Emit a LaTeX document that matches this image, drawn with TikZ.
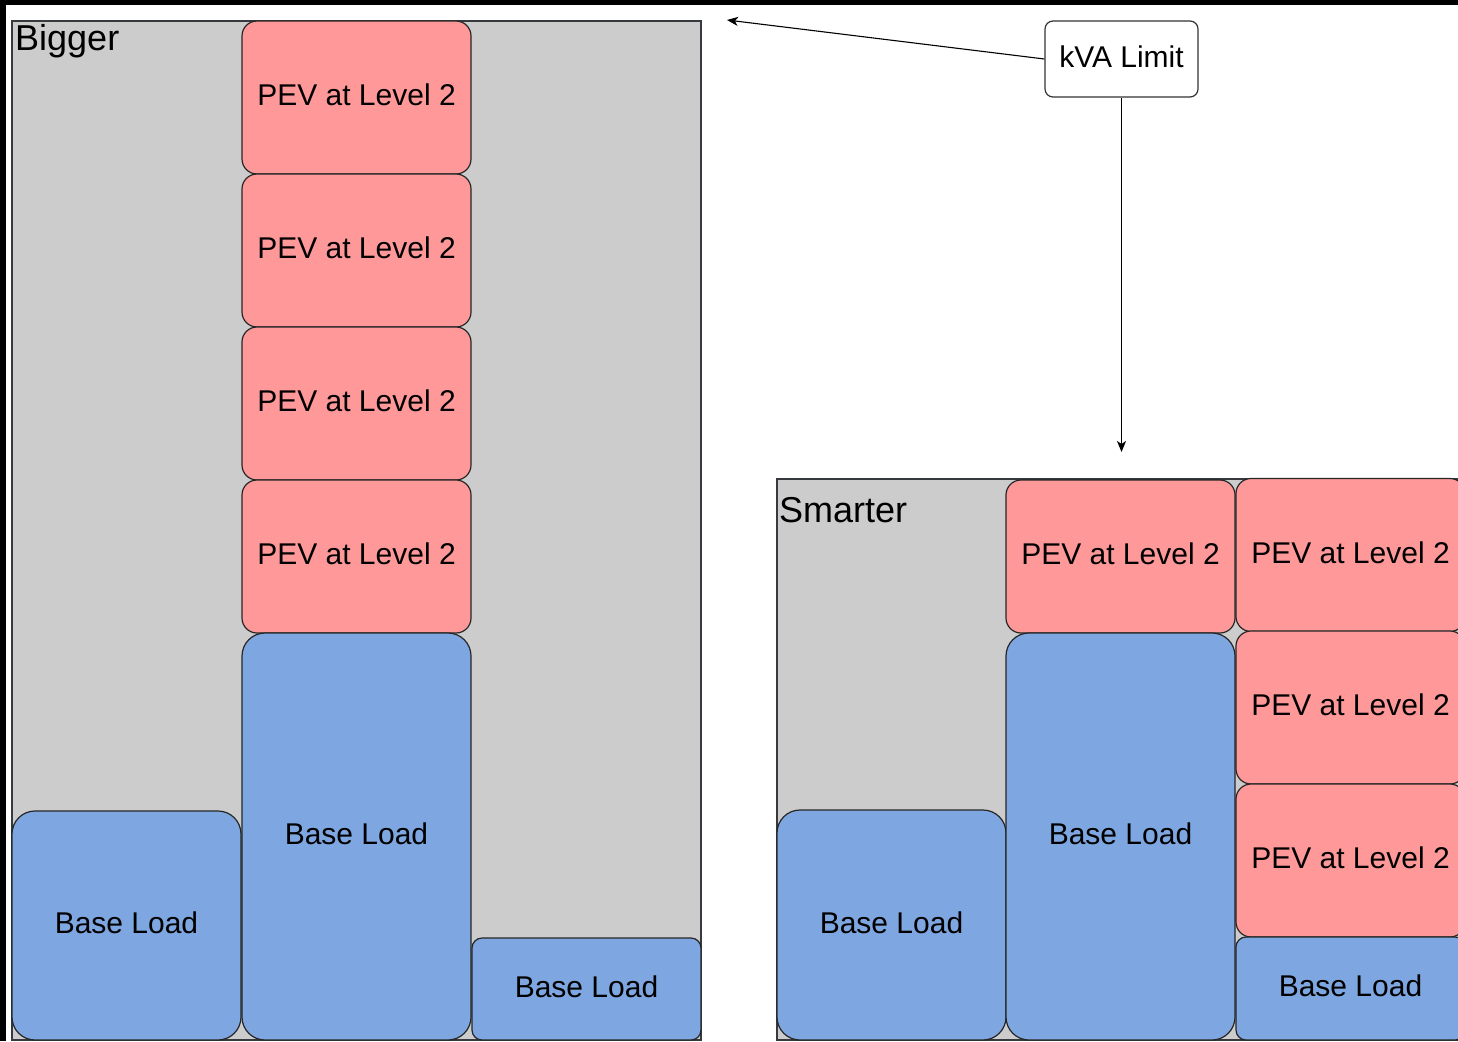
\documentclass[tikz,border=0pt]{standalone}
\usepackage{fontspec}
\setmainfont{Liberation Sans}
\usetikzlibrary{arrows.meta}
\definecolor{pevred}{HTML}{FF9999}
\definecolor{baseblue}{HTML}{7EA6E0}
\definecolor{panelgray}{HTML}{CCCCCC}
\definecolor{panelline}{HTML}{36393D}
\tikzset{
  panel/.style={draw=panelline, fill=panelgray, line width=1.1pt, inner sep=0pt},
  cell/.style={draw=black!85, line width=1.2pt, inner sep=0pt, minimum width=229pt,
    text depth=5pt, font=\fontsize{30}{36}\selectfont},
  pev/.style={cell, fill=pevred, minimum height=153pt, rounded corners=15pt},
  base/.style={cell, fill=baseblue},
  title/.style={font=\fontsize{36}{42}\selectfont, inner sep=0pt, anchor=base west},
  limitbox/.style={draw=black!80, fill=white, line width=1.2pt, rounded corners=8pt,
    minimum width=153pt, minimum height=76pt, inner sep=0pt, text depth=4pt,
    font=\fontsize{30}{36}\selectfont},
  conn/.style={draw=black, line width=1.1pt, -{Stealth[length=11pt,width=9pt,inset=3pt]}},
}
\begin{document}
\begin{tikzpicture}[x=1pt,y=-1pt]
\clip (0,0) rectangle (1458,1041);
\fill[white] (0,0) rectangle (1458,1041);
\fill[black] (0,0) rectangle (1458,5);
\fill[black] (0,0) rectangle (6,1041);

% Bigger panel
\node[panel, minimum width=689pt, minimum height=1019pt] (bigger) at (356.5,530.5) {};
\node[title] (biggerlbl) at (15,51) {Bigger};
\node[base, minimum height=229pt, rounded corners=23pt] (b1) at (126.5,925.5) {Base Load};
\node[pev] (b2p1) at (356.5,97.5) {PEV at Level 2};
\node[pev] (b2p2) at (356.5,250.5) {PEV at Level 2};
\node[pev] (b2p3) at (356.5,403.5) {PEV at Level 2};
\node[pev] (b2p4) at (356.5,556.5) {PEV at Level 2};
\node[base, minimum height=407pt, rounded corners=23pt] (b2) at (356.5,836.5) {Base Load};
\node[base, minimum height=102pt, rounded corners=10pt] (b3) at (586.5,989) {Base Load};

% Smarter panel
\node[panel, minimum width=689pt, minimum height=561pt] (smarter) at (1121.5,759.5) {};
\node[title] (smarterlbl) at (779,522) {Smarter};
\node[base, minimum height=230pt, rounded corners=23pt] (s1) at (891.5,925) {Base Load};
\node[pev] (s2p1) at (1120.5,556.5) {PEV at Level 2};
\node[base, minimum height=407pt, rounded corners=23pt] (s2) at (1120.5,836.5) {Base Load};
\node[pev] (s3p1) at (1350.5,555) {PEV at Level 2};
\node[pev] (s3p2) at (1350.5,707.5) {PEV at Level 2};
\node[pev] (s3p3) at (1350.5,860.5) {PEV at Level 2};
\node[base, minimum height=103pt, rounded corners=10pt] (s3) at (1350.5,988.5) {Base Load};

% kVA limit
\node[limitbox] (kva) at (1121.5,59) {kVA Limit};
\coordinate (bigtip) at (727,20);
\coordinate (smarttip) at (1121.5,452);
\draw[conn] (kva.west) -- (bigtip);
\draw[conn] (kva.south) -- (smarttip);
\end{tikzpicture}
\end{document}
